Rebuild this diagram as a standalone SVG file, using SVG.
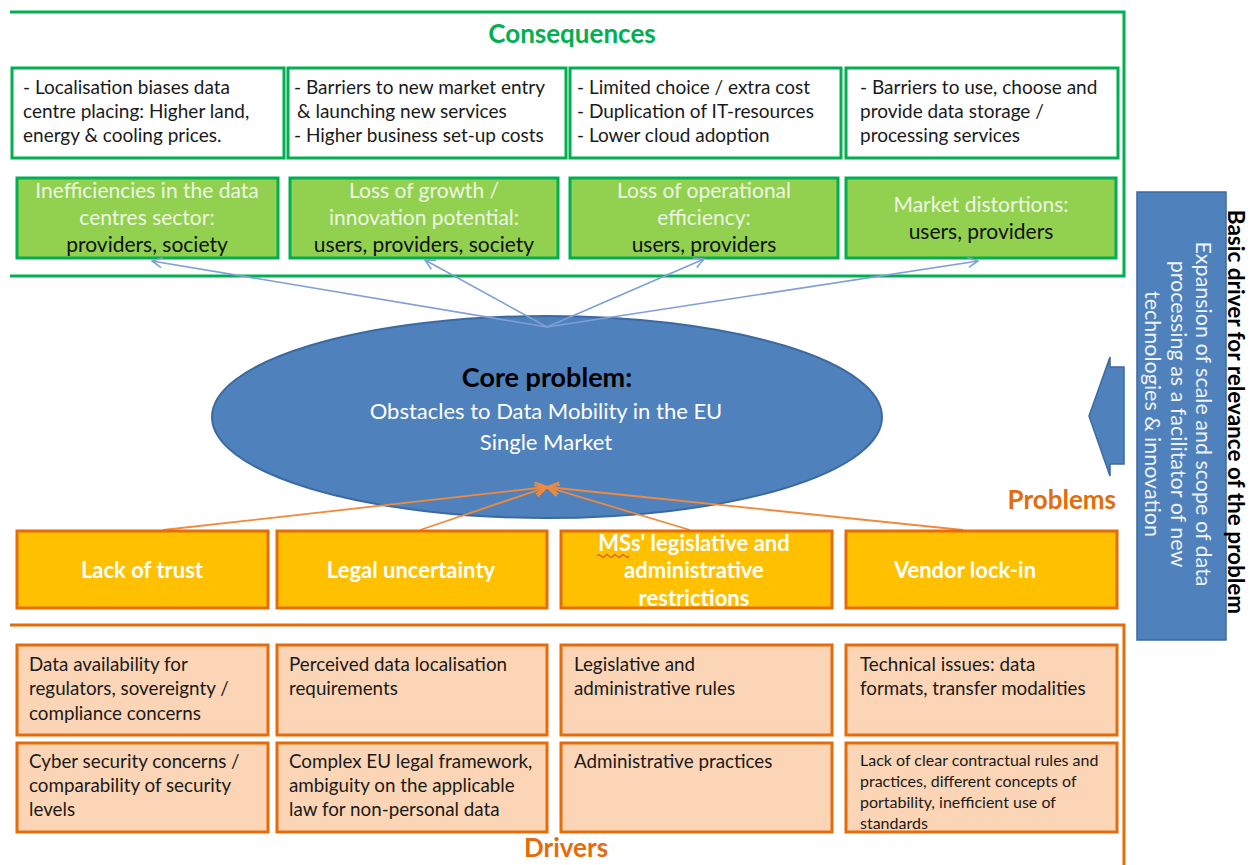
<svg xmlns="http://www.w3.org/2000/svg" width="1254" height="865" viewBox="0 0 1254 865">
<defs>
<style>
.t{font-family:Lato,"Open Sans","Liberation Sans",sans-serif}
.frameG{fill:none;stroke:#00b050;stroke-width:3}
.frameO{fill:none;stroke:#e46c0a;stroke-width:3}
.wbox{fill:#ffffff;stroke:#00b050;stroke-width:3}
.gbox{fill:#92d050;stroke:#00b050;stroke-width:3}
.pbox{fill:#ffc000;stroke:#e46c0a;stroke-width:3}
.dbox{fill:#fbd5b5;stroke:#e46c0a;stroke-width:3}
.bl{fill:none;stroke:#7f9fd5;stroke-width:1.6}
.ol{fill:none;stroke:#f08a3c;stroke-width:1.8}
.ct{font-size:19px;fill:#1a1a1a}
.gt{font-size:21px;fill:#eef6e4;text-anchor:middle}
.gk{font-size:21px;fill:#111;text-anchor:middle}
.pt{font-size:22px;fill:#ffffff;font-weight:bold;text-anchor:middle}
.dt{font-size:18.8px;fill:#1a1a1a}
.d8{font-size:16px;fill:#1a1a1a}
</style>
<marker id="ab" viewBox="0 0 12 12" refX="11" refY="6" markerWidth="12" markerHeight="12" markerUnits="userSpaceOnUse" orient="auto">
<path d="M1,1 L11,6 L1,11" fill="none" stroke="#7f9fd5" stroke-width="1.6"/>
</marker>
<marker id="ao" viewBox="0 0 12 12" refX="11" refY="6" markerWidth="14" markerHeight="14" markerUnits="userSpaceOnUse" orient="auto">
<path d="M1,1 L11,6 L1,11" fill="none" stroke="#f08a3c" stroke-width="1.8"/>
</marker>
</defs>
<rect width="1254" height="865" fill="#ffffff"/>

<!-- Consequences frame -->
<g id="consequences-frame">
<path class="frameG" d="M10,12 H1124 V276 H10"/>
<text class="t" x="572" y="43" text-anchor="middle" font-size="26" font-weight="bold" fill="#00b050">Consequences</text>
</g>

<g id="c1">
<rect class="wbox" x="12" y="68" width="272" height="90"/>
<text class="t ct" x="23" y="94">- Localisation biases data</text>
<text class="t ct" x="23" y="118">centre placing: Higher land,</text>
<text class="t ct" x="23" y="142">energy &amp; cooling prices.</text>
</g>
<g id="c2">
<rect class="wbox" x="288" y="68" width="278" height="90"/>
<text class="t ct" x="294" y="94">- Barriers to new market entry</text>
<text class="t ct" x="297" y="118">&amp; launching new services</text>
<text class="t ct" x="294" y="142">- Higher business set-up costs</text>
</g>
<g id="c3">
<rect class="wbox" x="570" y="68" width="271" height="90"/>
<text class="t ct" x="577" y="94">- Limited choice / extra cost</text>
<text class="t ct" x="577" y="118">- Duplication of IT-resources</text>
<text class="t ct" x="577" y="142">- Lower cloud adoption</text>
</g>
<g id="c4">
<rect class="wbox" x="846" y="68" width="272" height="90"/>
<text class="t ct" x="860" y="94">- Barriers to use, choose and</text>
<text class="t ct" x="860" y="118">provide data storage /</text>
<text class="t ct" x="860" y="142">processing services</text>
</g>

<g id="g1">
<rect class="gbox" x="17" y="178" width="261" height="80"/>
<text class="t gt" x="147" y="198">Inefficiencies in the data</text>
<text class="t gt" x="147" y="225">centres sector:</text>
<text class="t gk" x="147" y="252">providers, society</text>
</g>
<g id="g2">
<rect class="gbox" x="290" y="178" width="268" height="80"/>
<text class="t gt" x="424" y="198">Loss of growth /</text>
<text class="t gt" x="424" y="225">innovation potential:</text>
<text class="t gk" x="424" y="252">users, providers, society</text>
</g>
<g id="g3">
<rect class="gbox" x="570" y="178" width="268" height="80"/>
<text class="t gt" x="704" y="198">Loss of operational</text>
<text class="t gt" x="704" y="225">efficiency:</text>
<text class="t gk" x="704" y="252">users, providers</text>
</g>
<g id="g4">
<rect class="gbox" x="846" y="178" width="270" height="80"/>
<text class="t gt" x="981" y="212">Market distortions:</text>
<text class="t gk" x="981" y="239">users, providers</text>
</g>

<!-- Core problem -->
<g id="core">
<ellipse cx="547" cy="417" rx="335" ry="101" fill="#4f81bd" stroke="#3b6aa3" stroke-width="2"/>
<text class="t" x="547" y="387" text-anchor="middle" font-size="27" font-weight="bold" fill="#000">Core problem:</text>
<text class="t" x="546" y="419" text-anchor="middle" font-size="22" fill="#ffffff">Obstacles to Data Mobility in the EU</text>
<text class="t" x="546" y="450" text-anchor="middle" font-size="22" fill="#ffffff">Single Market</text>
</g>

<!-- Connectors -->
<g id="connectors">
<line class="bl" x1="547" y1="327" x2="152" y2="261" marker-end="url(#ab)"/>
<line class="bl" x1="547" y1="327" x2="425" y2="260" marker-end="url(#ab)"/>
<line class="bl" x1="547" y1="327" x2="704" y2="259" marker-end="url(#ab)"/>
<line class="bl" x1="547" y1="327" x2="978" y2="261" marker-end="url(#ab)"/>
<line class="ol" x1="163" y1="530" x2="547" y2="487" marker-end="url(#ao)"/>
<line class="ol" x1="420" y1="530" x2="547" y2="487" marker-end="url(#ao)"/>
<line class="ol" x1="690" y1="530" x2="547" y2="487" marker-end="url(#ao)"/>
<line class="ol" x1="963" y1="530" x2="547" y2="487" marker-end="url(#ao)"/>
</g>

<text class="t" x="1116" y="509" text-anchor="end" font-size="26" font-weight="bold" fill="#e46c0a">Problems</text>

<!-- Problems -->
<g id="p1">
<rect class="pbox" x="17" y="531" width="251" height="77"/>
<text class="t pt" x="142" y="578">Lack of trust</text>
</g>
<g id="p2">
<rect class="pbox" x="277" y="531" width="270" height="77"/>
<text class="t pt" x="411" y="578">Legal uncertainty</text>
</g>
<g id="p3">
<rect class="pbox" x="561" y="531" width="271" height="77"/>
<text class="t pt" x="694" y="551">MSs' legislative and</text>
<text class="t pt" x="694" y="578">administrative</text>
<text class="t pt" x="694" y="606">restrictions</text>
<path d="M597,556 q2,-3 4,0 t4,0 t4,0 t4,0 t4,0 t4,0 t4,0 t4,0" fill="none" stroke="#e02020" stroke-width="1"/>
</g>
<g id="p4">
<rect class="pbox" x="846" y="531" width="271" height="77"/>
<text class="t pt" x="965" y="578">Vendor lock-in</text>
</g>

<!-- Drivers frame -->
<g id="drivers-frame">
<path class="frameO" d="M10,625 H1124 V865"/>
<text class="t" x="566" y="857" text-anchor="middle" font-size="26" font-weight="bold" fill="#e46c0a">Drivers</text>
</g>

<g id="d1">
<rect class="dbox" x="17" y="645" width="251" height="90"/>
<text class="t dt" x="29" y="671">Data availability for</text>
<text class="t dt" x="29" y="695">regulators, sovereignty /</text>
<text class="t dt" x="29" y="720">compliance concerns</text>
</g>
<g id="d2">
<rect class="dbox" x="277" y="645" width="270" height="90"/>
<text class="t dt" x="289" y="671">Perceived data localisation</text>
<text class="t dt" x="289" y="695">requirements</text>
</g>
<g id="d3">
<rect class="dbox" x="561" y="645" width="271" height="90"/>
<text class="t dt" x="574" y="671">Legislative and</text>
<text class="t dt" x="574" y="695">administrative rules</text>
</g>
<g id="d4">
<rect class="dbox" x="846" y="645" width="271" height="90"/>
<text class="t dt" x="860" y="671">Technical issues: data</text>
<text class="t dt" x="860" y="695">formats, transfer modalities</text>
</g>
<g id="d5">
<rect class="dbox" x="17" y="743" width="251" height="89"/>
<text class="t dt" x="29" y="768">Cyber security concerns /</text>
<text class="t dt" x="29" y="792">comparability of security</text>
<text class="t dt" x="29" y="816">levels</text>
</g>
<g id="d6">
<rect class="dbox" x="277" y="743" width="270" height="89"/>
<text class="t dt" x="289" y="768">Complex EU legal framework,</text>
<text class="t dt" x="289" y="792">ambiguity on the applicable</text>
<text class="t dt" x="289" y="816">law for non-personal data</text>
</g>
<g id="d7">
<rect class="dbox" x="561" y="743" width="271" height="89"/>
<text class="t dt" x="574" y="768">Administrative practices</text>
</g>
<g id="d8">
<rect class="dbox" x="846" y="743" width="271" height="89"/>
<text class="t d8" x="860" y="766">Lack of clear contractual rules and</text>
<text class="t d8" x="860" y="787">practices, different concepts of</text>
<text class="t d8" x="860" y="808">portability, inefficient use of</text>
<text class="t d8" x="860" y="829">standards</text>
</g>

<!-- Basic driver -->
<g id="basic-driver">
<path d="M1089,416 L1110,357 V367 H1124 V464 H1110 V476 Z" fill="#4f81bd" stroke="#3b6aa3" stroke-width="1.5"/>
<rect x="1137" y="192" width="89" height="448" fill="#4f81bd" stroke="#3b6aa3" stroke-width="1.5"/>
<g transform="translate(1196,414) rotate(90)">
<text class="t" x="0" y="0" text-anchor="middle" font-size="21.5" fill="#eef2f8">Expansion of scale and scope of data</text>
<text class="t" x="0" y="25.5" text-anchor="middle" font-size="21.5" fill="#eef2f8">processing as a facilitator of new</text>
<text class="t" x="0" y="51" text-anchor="middle" font-size="21.5" fill="#eef2f8">technologies &amp; innovation</text>
</g>
<text class="t" transform="translate(1228,412) rotate(90)" x="0" y="0" text-anchor="middle" font-size="22.5" font-weight="bold" fill="#000">Basic driver for relevance of the problem</text>
</g>
</svg>
